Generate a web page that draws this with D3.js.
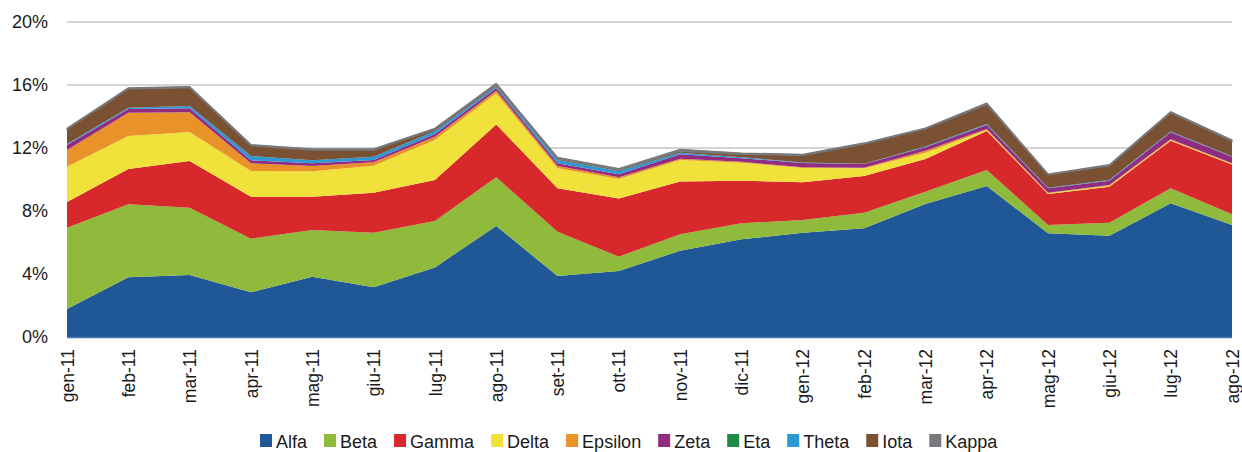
<!DOCTYPE html>
<html>
<head>
<meta charset="utf-8">
<script src="https://d3js.org/d3.v7.min.js"></script>
<style>
body { margin: 0; background: #fff; }
svg text { font-family: "Liberation Sans", Arial, sans-serif; fill: #1a1a1a; }
.grid line { stroke: #d4d4d4; stroke-width: 2px; }
</style>
</head>
<body>
<svg width="1242" height="452"></svg>
<script>
// months on the x axis
let months = ["gen-11", "feb-11", "mar-11", "apr-11", "mag-11", "giu-11", "lug-11", "ago-11", "set-11", "ott-11",
              "nov-11", "dic-11", "gen-12", "feb-12", "mar-12", "apr-12", "mag-12", "giu-12", "lug-12", "ago-12"]

let seriesNames = ["Alfa", "Beta", "Gamma", "Delta", "Epsilon", "Zeta", "Eta", "Theta", "Iota", "Kappa"]
let seriesColors = ["#1f5797", "#8fba3c", "#d7292b", "#f0e23a", "#ea922a", "#922c81", "#1d8a46", "#2c98d4", "#7a5233", "#77787b"]

// values in %
let alfa    = [1.78, 3.79, 3.94, 2.84, 3.83, 3.16, 4.42, 7.05, 3.87, 4.19, 5.48, 6.20, 6.62, 6.90, 8.44, 9.59, 6.58, 6.43, 8.49, 7.11]
let beta    = [5.16, 4.64, 4.27, 3.40, 2.96, 3.46, 2.95, 3.09, 2.82, 0.91, 1.04, 1.02, 0.81, 0.99, 0.79, 1.01, 0.53, 0.83, 0.95, 0.68]
let gamma   = [1.63, 2.24, 2.96, 2.67, 2.12, 2.54, 2.60, 3.36, 2.75, 3.70, 3.36, 2.70, 2.39, 2.33, 2.07, 2.48, 1.97, 2.28, 3.02, 3.17]
let delta   = [2.24, 2.09, 1.85, 1.63, 1.61, 1.72, 2.54, 1.97, 1.27, 1.23, 1.36, 1.15, 0.91, 0.49, 0.40, 0.06, 0.04, 0.07, 0.05, 0.04]
let epsilon = [1.06, 1.48, 1.25, 0.49, 0.34, 0.21, 0.21, 0.17, 0.15, 0.11, 0.08, 0.05, 0.04, 0.04, 0.13, 0.07, 0.04, 0.04, 0.04, 0.03]
let zeta    = [0.32, 0.24, 0.25, 0.19, 0.17, 0.15, 0.17, 0.17, 0.17, 0.19, 0.28, 0.23, 0.28, 0.23, 0.21, 0.25, 0.28, 0.27, 0.45, 0.42]
let eta     = [0, 0, 0, 0, 0, 0, 0, 0, 0, 0, 0, 0, 0, 0, 0, 0, 0, 0, 0, 0]
let theta   = [0.06, 0.08, 0.15, 0.27, 0.19, 0.21, 0.19, 0.09, 0.21, 0.21, 0.10, 0.07, 0.03, 0.02, 0.06, 0.06, 0.04, 0.05, 0.04, 0.03]
let iota    = [0.94, 1.19, 1.16, 0.66, 0.65, 0.42, 0.11, 0.08, 0.06, 0.06, 0.09, 0.18, 0.45, 1.25, 1.11, 1.25, 0.81, 0.91, 1.20, 0.96]
let kappa   = [0.06, 0.07, 0.07, 0.07, 0.08, 0.08, 0.06, 0.12, 0.11, 0.09, 0.13, 0.08, 0.07, 0.07, 0.06, 0.09, 0.06, 0.06, 0.07, 0.07]

let yTicks = [0, 4, 8, 12, 16, 20]

let seriesValues = [alfa, beta, gamma, delta, epsilon, zeta, eta, theta, iota, kappa]
let rows = months.map((m, i) => {
    let r = {month: m}
    seriesNames.forEach((s, k) => { r[s] = seriesValues[k][i] })
    return r
})

let svg = d3.select("svg")
let plotLeft = 67, plotRight = 1232, plotTop = 22, plotBottom = 337

let x = d3.scalePoint().domain(months).range([plotLeft, plotRight])
let y = d3.scaleLinear().domain([0, 20]).range([plotBottom, plotTop])

// gridlines
svg.append("g").attr("class", "grid")
    .selectAll("line")
    .data(yTicks.slice(1))
    .enter().append("line")
    .attr("x1", plotLeft).attr("x2", plotRight)
    .attr("y1", d => y(d)).attr("y2", d => y(d))

let stack = d3.stack().keys(seriesNames)
let layers = stack(rows)

let area = d3.area()
    .x(d => x(d.data.month))
    .y0(d => y(d[0]))
    .y1(d => y(d[1]))

svg.append("g").selectAll("path")
    .data(layers)
    .enter().append("path")
    .attr("d", area)
    .attr("fill", (d, i) => seriesColors[i])
    .attr("stroke", (d, i) => i == seriesNames.length - 1 ? seriesColors[i] : "none")
    .attr("stroke-width", 1.2)

// baseline
svg.append("line")
    .attr("x1", plotLeft).attr("x2", plotRight)
    .attr("y1", plotBottom + 0.5).attr("y2", plotBottom + 0.5)
    .attr("stroke", "#4b79b3").attr("stroke-width", 1.5)

// y axis labels
let yAxis = d3.axisLeft(y).tickValues(yTicks).tickSize(0).tickPadding(0).tickFormat(d => d + "%")
let yg = svg.append("g").attr("transform", "translate(48,0)").call(yAxis)
yg.select(".domain").remove()
yg.selectAll("text").attr("font-size", "18px").attr("font-family", null).attr("fill", "#1a1a1a")

// x axis labels
let xAxis = d3.axisBottom(x).tickSize(0).tickPadding(0)
let xg = svg.append("g").attr("transform", "translate(0," + plotBottom + ")").call(xAxis)
xg.select(".domain").remove()
xg.selectAll("text")
    .attr("font-size", "17.5px").attr("font-family", null).attr("fill", "#1a1a1a")
    .attr("text-anchor", "end")
    .attr("transform", "rotate(-90)")
    .attr("x", -12).attr("y", 0).attr("dy", "0.35em")

// legend
let legend = svg.append("g")
let lx = 260
seriesNames.forEach((s, i) => {
    legend.append("rect")
        .attr("x", lx).attr("y", 434)
        .attr("width", 12).attr("height", 13)
        .attr("fill", seriesColors[i])
    let t = legend.append("text")
        .attr("x", lx + 16).attr("y", 447.5)
        .attr("font-size", "18px")
        .text(s)
    lx += 16 + t.node().getComputedTextLength() + 17
})
</script>
</body>
</html>
